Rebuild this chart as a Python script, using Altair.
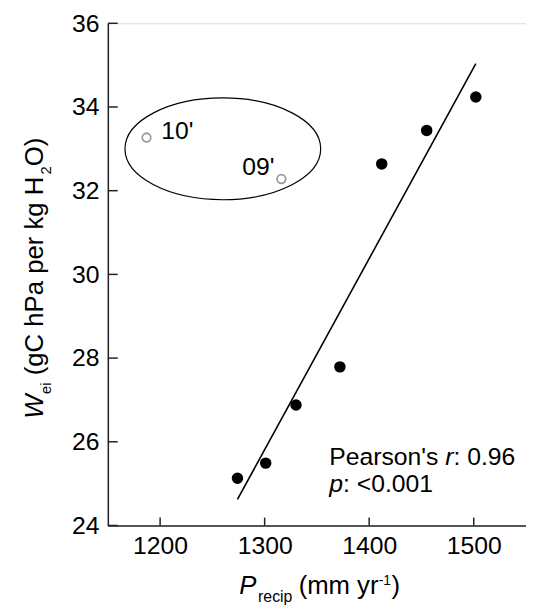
import altair as alt
import pandas as pd

# ---- data ----
precip = [1274, 1301, 1330, 1372, 1412, 1455, 1502]
wei = [25.13, 25.49, 26.88, 27.79, 32.64, 33.44, 34.24]
out_precip = [1187, 1316]
out_wei = [33.27, 32.28]
out_labels = ["10'", "09'"]
ellipse_x = [1260]
ellipse_y = [33.0]
x_ticks = [1200, 1300, 1400, 1500]
y_ticks = [24, 26, 28, 30, 32, 34, 36]

FONT = "Liberation Sans"
W, H = 423, 508
AXIS_COLOR = "#222222"

main_df = pd.DataFrame({"x": precip, "y": wei})
out_df = pd.DataFrame({"x": out_precip, "y": out_wei, "label": out_labels})
ell_df = pd.DataFrame({"x": ellipse_x, "y": ellipse_y})
xt_df = pd.DataFrame({"x": x_ticks})
yt_df = pd.DataFrame({"y": y_ticks})

xscale = alt.Scale(domain=[1150, 1550], nice=False, zero=False)
yscale = alt.Scale(domain=[24, 36], nice=False, zero=False)

x_axis = alt.Axis(values=x_ticks, ticks=False, tickSize=0, grid=False, title=None,
                  labelFont=FONT, labelFontSize=25, labelColor="black", labelPadding=8,
                  domainColor=AXIS_COLOR, domainWidth=1.5, format="d")
y_axis = alt.Axis(values=y_ticks, ticks=False, tickSize=0, grid=False, title=None,
                  labelFont=FONT, labelFontSize=25, labelColor="black", labelPadding=9,
                  domainColor=AXIS_COLOR, domainWidth=1.5, format="d")

X = alt.X("x:Q", scale=xscale, axis=x_axis)
Y = alt.Y("y:Q", scale=yscale, axis=y_axis)

points = alt.Chart(main_df).mark_point(filled=True, color="black", size=135, opacity=1).encode(x=X, y=Y)

fit = alt.Chart(main_df).transform_regression("x", "y").mark_line(
    color="black", strokeWidth=1.6).encode(x=X, y=Y)

outliers = alt.Chart(out_df).mark_point(filled=False, color="#9a9a9a", size=75,
                                        strokeWidth=1.8, opacity=1).encode(x=X, y=Y)

lab10 = alt.Chart(out_df).transform_filter(alt.datum.label == "10'").mark_text(
    font=FONT, fontSize=25, align="left", baseline="alphabetic", dx=15, dy=1, color="black"
).encode(x=X, y=Y, text="label:N")
lab09 = alt.Chart(out_df).transform_filter(alt.datum.label == "09'").mark_text(
    font=FONT, fontSize=25, align="right", baseline="alphabetic", dx=-7, dy=-4, color="black"
).encode(x=X, y=Y, text="label:N")

ELLIPSE = "M-1,0A1,0.52,0,1,1,1,0A1,0.52,0,1,1,-1,0Z"
ellipse = alt.Chart(ell_df).mark_point(shape=ELLIPSE, size=198 * 198, filled=False,
                                       color="black", strokeWidth=1.2, opacity=1).encode(x=X, y=Y)

yticks = alt.Chart(yt_df).mark_rule(color=AXIS_COLOR, strokeWidth=1.5).encode(
    y=alt.Y("y:Q", scale=yscale, axis=y_axis), x=alt.value(0), x2=alt.value(10))
xticks = alt.Chart(xt_df).mark_rule(color=AXIS_COLOR, strokeWidth=1.5).encode(
    x=alt.X("x:Q", scale=xscale, axis=x_axis), y=alt.value(H), y2=alt.value(H - 8))


def note(text, x, y, size=25, style="normal", angle=0):
    return alt.Chart(alt.Data(values=[{}])).mark_text(
        text=text, font=FONT, fontSize=size, fontStyle=style, angle=angle,
        align="left", baseline="alphabetic", color="black"
    ).encode(x=alt.value(x), y=alt.value(y))


# y-axis title pieces (rotated, reading upward)
ytitle = [
    note("W", -66, 400, 26, "italic", 270),
    note("ei", -58, 375, 15, "normal", 270),
    note("(gC hPa per kg H", -66, 356, 26, "normal", 270),
    note("2", -58, 153, 15, "normal", 270),
    note("O)", -66, 144.5, 26, "normal", 270),
]
# x-axis title pieces
xtitle = [
    note("P", 133, 577, 26, "italic"),
    note("recip", 152, 585, 16),
    note("(mm yr", 193, 577, 26),
    note("-1", 274, 568, 14),
    note(")", 287, 577, 26),
]
# statistics annotation
stats = [
    note("Pearson's ", 224, 447, 25),
    note("r", 341.3, 447, 25, "italic"),
    note(": 0.96", 349.6, 447, 25),
    note("p", 224, 474, 25, "italic"),
    note(": <0.001", 237.9, 474, 25),
]

chart = alt.layer(
    ellipse, fit, points, outliers, lab10, lab09, yticks, xticks,
    *ytitle, *xtitle, *stats
).properties(
    width=W, height=H,
    autosize=alt.AutoSizeParams(type="none"),
    padding={"left": 101, "top": 12, "right": 0, "bottom": 80},
).configure_view(stroke=None).configure(background="white")

chart.save("out.html", embed_options={"renderer": "svg", "actions": False})
